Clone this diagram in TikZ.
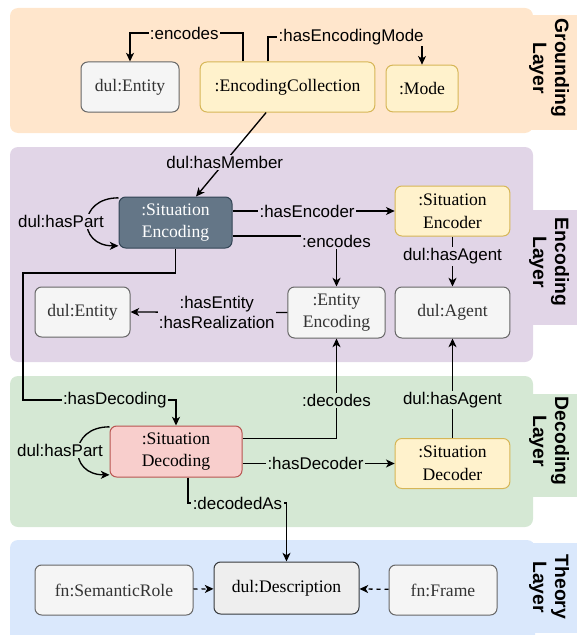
\documentclass[tikz,border=0pt]{standalone}
\usepackage{fontspec}
\setmainfont{Liberation Serif}
\setsansfont{Liberation Sans}
\usepackage{tikz}
\usetikzlibrary{arrows.meta}
\definecolor{groundbg}{HTML}{FFE6CC}
\definecolor{encbg}{HTML}{E1D5E7}
\definecolor{decbg}{HTML}{D5E8D4}
\definecolor{theorybg}{HTML}{DAE8FC}
\definecolor{grayfill}{HTML}{F5F5F5}
\definecolor{grayline}{HTML}{666666}
\definecolor{yelfill}{HTML}{FFF2CC}
\definecolor{yelline}{HTML}{D6B656}
\definecolor{encfill}{HTML}{647687}
\definecolor{encline}{HTML}{314354}
\definecolor{decfill}{HTML}{F8CECC}
\definecolor{decline}{HTML}{B85450}
\definecolor{descfill}{HTML}{EEEEEE}
\definecolor{descline}{HTML}{36393D}

\begin{document}
\begin{tikzpicture}[x=0.75pt,y=-0.75pt,
                    ->,
                    >={Stealth[length=6.5pt,width=6pt,inset=1.8pt]},
                    line width=1pt,
                    nbox/.style={rectangle,rounded corners=5pt,line width=0.75pt,align=center,
                                 minimum width=86pt,minimum height=37.5pt,inner sep=2pt,
                                 font=\fontsize{13.2}{17}\selectfont},
                    ngray/.style={nbox,draw=grayline,fill=grayfill,text=black!80},
                    nyel/.style={nbox,draw=yelline,fill=yelfill},
                    nenc/.style={nbox,draw=encline,fill=encfill,text=white},
                    ndec/.style={nbox,draw=decline,fill=decfill},
                    ndesc/.style={nbox,draw=descline,fill=descfill},
                    lbl/.style={fill=#1,inner sep=1pt,align=center,
                                font=\sffamily\fontsize{12.7}{15}\selectfont},
                    layer/.style={rotate=-90,align=center,
                                  font=\sffamily\bfseries\fontsize{14.5}{16.5}\selectfont}
                    ]
  \useasboundingbox (0,0) rectangle (577,635);
  % layers
  \fill[groundbg,rounded corners=6pt] (10,8) rectangle (533,133);
  \fill[groundbg] (525,15) rectangle (577,130);
  \fill[encbg,rounded corners=6pt] (10,147) rectangle (533,362);
  \fill[encbg] (525,210) rectangle (577,325);
  \fill[decbg,rounded corners=6pt] (10,376) rectangle (533,527);
  \fill[decbg] (525,394) rectangle (577,497);
  \fill[theorybg,rounded corners=6pt] (10,540) rectangle (535,650);
  \fill[theorybg] (525,543) rectangle (577,633);
  \node[layer] (lgr) at (549,68) {Grounding\\Layer};
  \node[layer] (lenc) at (549,262) {Encoding\\Layer};
  \node[layer] (ldec) at (549,441) {Decoding\\Layer};
  \node[layer] (lth) at (549,587) {Theory\\Layer};

  % nodes
  \node[ngray,minimum width=73.5pt] (entTop) at (130,87) {dul:Entity};
  \node[nyel,minimum width=131pt] (coll) at (287.5,87) {:EncodingCollection};
  \node[nyel,minimum width=54pt,minimum height=35pt] (mode) at (422,88.5) {:Mode};
  \node[nenc,minimum width=84.75pt,minimum height=38.25pt] (sitEnc) at (175.5,222.5) {:Situation\\Encoding};
  \node[nyel] (encoder) at (452.5,211) {:Situation\\Encoder};
  \node[ngray,minimum width=73pt,minimum height=38.25pt] (entEnc) at (336.5,312.5) {:Entity\\Encoding};
  \node[ngray,minimum height=38.25pt] (agent) at (452.5,312.5) {dul:Agent};
  \node[ngray,minimum width=71.25pt] (entMid) at (82.5,312) {dul:Entity};
  \node[ndec,minimum width=99pt,minimum height=38.25pt] (sitDec) at (176,451.5) {:Situation\\Decoding};
  \node[nyel] (decoder) at (452.5,463.5) {:Situation\\Decoder};
  \node[ndesc,minimum width=108.75pt,minimum height=39pt] (desc) at (286.5,588) {dul:Description};
  \node[ngray,minimum width=118.5pt] (role) at (114,590) {fn:SemanticRole};
  \node[ngray,minimum width=81pt] (frame) at (443,590) {fn:Frame};

  % grounding layer
  \coordinate (encTop) at (243,33);
  \coordinate (modeTop) at (268,37);
  \draw (coll.north -| encTop) -- (encTop) -| node[lbl=groundbg,pos=0.26] {:encodes} (entTop.north);
  \draw (coll.north -| modeTop) -- (modeTop) -| node[lbl=groundbg,pos=0.27] {:hasEncodingMode} (mode.north);
  \draw ([xshift=-16pt]coll.south) -- node[lbl=encbg,pos=0.59] {dul:hasMember} ([xshift=15.4pt]sitEnc.north);

  % encoding layer
  \draw ([yshift=-1pt]sitEnc.north west) to[out=180,in=180,looseness=2.2]
        node[lbl=encbg,xshift=-20pt] {dul:hasPart} ([yshift=2pt]sitEnc.south west);
  \draw (sitEnc.east |- encoder.west) -- node[lbl=encbg,pos=0.46] {:hasEncoder} (encoder.west);
  \draw ([yshift=-10pt]sitEnc.east) -| node[lbl=encbg,yshift=-4pt] {:encodes} (entEnc.north);
  \draw (entEnc.west) -- node[lbl=encbg,pos=0.45] {:hasEntity\\:hasRealization} (entMid.east);
  \draw (encoder.south) -- node[lbl=encbg,pos=0.4] {dul:hasAgent} (agent.north);

  % decoding layer
  \coordinate (decA) at (23,273);
  \coordinate (decB) at (23,400);
  \draw (sitEnc.south) |- (decA) -- (decB) -| node[lbl=decbg,pos=0.3] {:hasDecoding} (sitDec.north);
  \draw ([yshift=-1pt]sitDec.north west) to[out=180,in=180,looseness=2.2]
        node[lbl=decbg,xshift=-14pt] {dul:hasPart} ([yshift=2pt]sitDec.south west);
  \draw ([yshift=10pt]sitDec.east) -| node[lbl=decbg,pos=0.69] {:decodes} (entEnc.south);
  \draw (sitDec.east |- decoder.west) -- node[lbl=decbg,pos=0.48] {:hasDecoder} (decoder.west);
  \draw (decoder.north) -- node[lbl=decbg,pos=0.38] {dul:hasAgent} (agent.south);
  \coordinate (decAs) at (237.5,503);
  \draw ([xshift=9pt]sitDec.south) |- (decAs) node[lbl=decbg] {:decodedAs} -| (desc.north);

  % theory layer
  \draw[dash pattern=on 3pt off 3pt] (role) -- (desc);
  \draw[dash pattern=on 3pt off 3pt] (frame) -- (desc);
\end{tikzpicture}
\end{document}
